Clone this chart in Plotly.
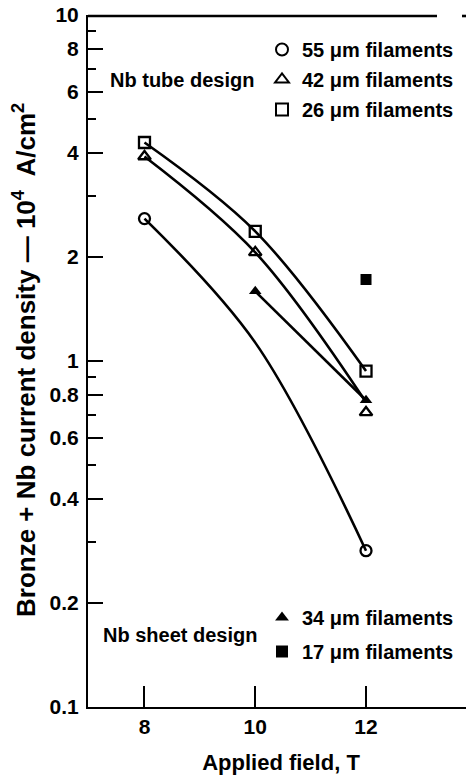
import plotly.graph_objects as go

# ---- data ----
field = [8, 10, 12]

tube55_x = [8, 12]
tube55_y = [2.58, 0.283]
tube55_curve_x = [8, 10, 12]
tube55_curve_y = [2.58, 1.13, 0.283]

tube42_y = [3.90, 2.06, 0.71]
tube42_curve_y = [3.90, 2.06, 0.76]

tube26_y = [4.28, 2.37, 0.935]

sheet34_x = [10, 12]
sheet34_y = [1.59, 0.77]

sheet17_x = [12]
sheet17_y = [1.72]

y_major = [10, 8, 6, 4, 2, 1, 0.8, 0.6, 0.4, 0.2, 0.1]
y_major_text = ["10", "8", "6", "4", "2", "1", "0.8", "0.6", "0.4", "0.2", "0.1"]
y_minor = [9, 7, 5, 3, 0.9, 0.7, 0.5, 0.3]
x_ticks = [8, 10, 12]

FONT = "Liberation Sans, Arial, sans-serif"
LW = 2.6
MS = 11

# page body has an 8px margin: figure is placed at (8, 8) in the window
OFF = 8
W, H = 474 - OFF, 783 - OFF
L, R, T, B = 88 - OFF, 0, 15 - OFF, 76
PW, PH = W - L - R, H - T - B


def px_x(px):
    return (px - OFF - L) / PW


def px_y(py):
    return (H - B - (py - OFF)) / PH


fig = go.Figure()

# curves (no legend)
fig.add_trace(go.Scatter(x=tube55_curve_x, y=tube55_curve_y, mode="lines",
                         line=dict(color="black", width=LW, shape="spline"),
                         showlegend=False, hoverinfo="skip"))
fig.add_trace(go.Scatter(x=field, y=tube42_curve_y, mode="lines",
                         line=dict(color="black", width=LW, shape="spline"),
                         showlegend=False, hoverinfo="skip"))
fig.add_trace(go.Scatter(x=field, y=tube26_y, mode="lines",
                         line=dict(color="black", width=LW, shape="spline"),
                         showlegend=False, hoverinfo="skip"))
fig.add_trace(go.Scatter(x=sheet34_x, y=sheet34_y, mode="lines",
                         line=dict(color="black", width=LW),
                         showlegend=False, hoverinfo="skip"))


def open_mk(symbol):
    return dict(symbol=symbol, size=MS, color="black", line=dict(width=2.3))


fig.add_trace(go.Scatter(x=tube55_x, y=tube55_y, mode="markers",
                         marker=open_mk("circle-open"), name="55 μm filaments",
                         legend="legend", legendgroup="a"))
fig.add_trace(go.Scatter(x=field, y=tube42_y, mode="markers",
                         marker=open_mk("triangle-up-open"), name="42 μm filaments",
                         legend="legend", legendgroup="b"))
fig.add_trace(go.Scatter(x=field, y=tube26_y, mode="markers",
                         marker=open_mk("square-open"), name="26 μm filaments",
                         legend="legend", legendgroup="c"))
fig.add_trace(go.Scatter(x=sheet34_x, y=sheet34_y, mode="markers",
                         marker=dict(symbol="triangle-up", size=MS, color="black"),
                         name="34 μm filaments", legend="legend2", legendgroup="d"))
fig.add_trace(go.Scatter(x=sheet17_x, y=sheet17_y, mode="markers",
                         marker=dict(symbol="square", size=MS, color="black"),
                         name="17 μm filaments", legend="legend2", legendgroup="e"))

legfont = dict(family=FONT, size=20, color="black", weight="bold")

fig.update_layout(
    width=W, height=H,
    margin=dict(l=L, r=R, t=T, b=B, autoexpand=False),
    paper_bgcolor="white", plot_bgcolor="white",
    font=dict(family=FONT, color="black"),
    legend=dict(x=px_x(262), y=px_y(30), xref="paper", yref="paper",
                xanchor="left", yanchor="top", font=legfont,
                bgcolor="rgba(0,0,0,0)", traceorder="grouped", tracegroupgap=1,
                itemsizing="constant"),
    legend2=dict(x=px_x(262), y=px_y(598), xref="paper", yref="paper",
                 xanchor="left", yanchor="top", font=legfont,
                 bgcolor="rgba(0,0,0,0)", traceorder="grouped", tracegroupgap=5,
                 itemsizing="constant"),
    xaxis=dict(range=[6.98, 13.95], showgrid=False, zeroline=False, automargin=False,
               showline=True, linecolor="black", linewidth=2,
               tickmode="array", tickvals=x_ticks, ticks="inside",
               ticklen=21, tickwidth=2, tickcolor="black",
               tickfont=dict(family=FONT, size=21, weight="bold"),
               title=dict(text="Applied field, T", standoff=17,
                          font=dict(family=FONT, size=22, weight="bold"))),
    yaxis=dict(type="log", range=[-1, 1], showgrid=False, zeroline=False, automargin=False,
               showline=True, linecolor="black", linewidth=2,
               tickmode="array", tickvals=y_major, ticktext=y_major_text,
               ticks="inside", ticklen=15, tickwidth=2, tickcolor="black",
               ticklabelstandoff=3, ticklabeloverflow="allow",
               tickfont=dict(family=FONT, size=21, weight="bold"),
               minor=dict(tickmode="array", tickvals=y_minor, ticks="inside",
                          ticklen=8, tickwidth=2, tickcolor="black")),
    shapes=[
        dict(type="line", xref="paper", yref="paper", x0=0, x1=px_x(437),
             y0=px_y(16), y1=px_y(16), layer="above",
             line=dict(color="black", width=2.6)),
        dict(type="line", xref="paper", yref="paper", x0=px_x(462), x1=1,
             y0=px_y(16), y1=px_y(16), layer="above",
             line=dict(color="black", width=2.6)),
    ],
    annotations=[
        dict(text="Bronze + Nb current density — 10<sup>4</sup>  A/cm<sup>2</sup>",
             xref="paper", yref="paper", x=px_x(24), y=px_y(360),
             xanchor="center", yanchor="middle", textangle=-90, showarrow=False,
             font=dict(family=FONT, size=26, weight="bold")),
        dict(text="Nb tube design", xref="paper", yref="paper",
             x=px_x(182), y=px_y(80), xanchor="center", yanchor="middle",
             showarrow=False, font=dict(family=FONT, size=20, weight="bold")),
        dict(text="Nb sheet design", xref="paper", yref="paper",
             x=px_x(180), y=px_y(635), xanchor="center", yanchor="middle",
             showarrow=False, font=dict(family=FONT, size=20, weight="bold")),
    ],
)

fig.write_html("out.html")
